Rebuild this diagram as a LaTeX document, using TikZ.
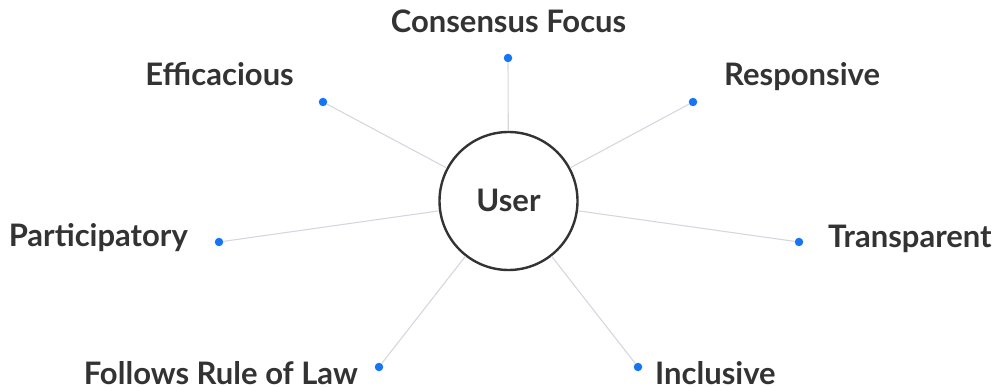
\documentclass[tikz,border=0pt]{standalone}
\usepackage{fontspec}
\setmainfont{Lato}
\usepackage{tikz}
\definecolor{tcol}{RGB}{51,51,51}
\definecolor{dcol}{RGB}{22,117,242}
\definecolor{lcol}{RGB}{214,214,224}
\tikzset{every picture/.style={x=1pt,y=-1pt}}
\tikzset{hub/.style={circle,draw=tcol,line width=2.4pt,minimum size=138,inner sep=0pt,fill=white}}
\tikzset{dot/.style={circle,fill=dcol,inner sep=0pt,minimum size=8.5}}
\tikzset{spoke/.style={lcol,line width=1.1pt}}
\tikzset{label/.style={text=tcol,font=\bfseries\fontsize{31}{36}\selectfont,inner sep=0pt}}

\begin{document}
\begin{tikzpicture}
\useasboundingbox (0,0) rectangle (1006,387);
\node [hub] (u) at (508.5,201) {};
\node [label,anchor=base] (tu) at (508.5,212) {User};

\node [dot] (p1) at (508,58) {};
\node [dot] (p2) at (693,102) {};
\node [dot] (p3) at (799,242) {};
\node [dot] (p4) at (638,367) {};
\node [dot] (p5) at (379,367) {};
\node [dot] (p6) at (219,242) {};
\node [dot] (p7) at (323,102) {};

\draw [spoke] (u) -- (p1);
\draw [spoke] (u) -- (p2);
\draw [spoke] (u) -- (p3);
\draw [spoke] (u) -- (p4);
\draw [spoke] (u) -- (p5);
\draw [spoke] (u) -- (p6);
\draw [spoke] (u) -- (p7);

\node [label,anchor=base] (t1) at (508.5,33) {Consensus Focus};
\node [label,anchor=base west] (t2) at (724,86) {Responsive};
\node [label,anchor=base west] (t3) at (828,248) {Transparent};
\node [label,anchor=base west] (t4) at (655,384) {Inclusive};
\node [label,anchor=base east] (t5) at (358,384) {Follows Rule of Law};
\node [label,anchor=base east] (t6) at (188,247) {Participatory};
\node [label,anchor=base east] (t7) at (294,86) {Efficacious};
\end{tikzpicture}
\end{document}
